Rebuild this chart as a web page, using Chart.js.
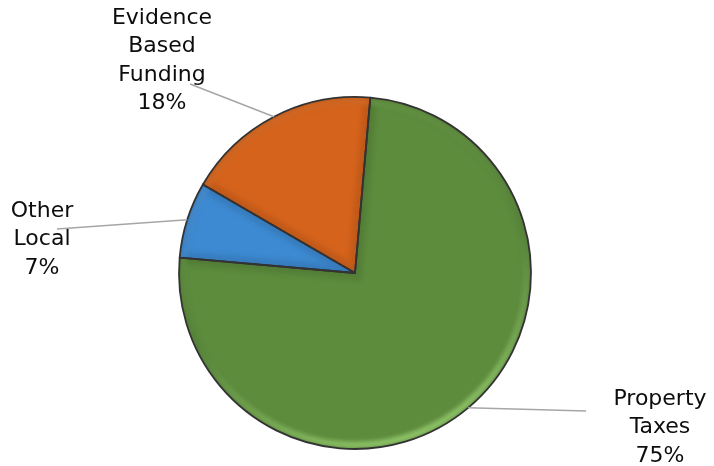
<!DOCTYPE html>
<html>
<head>
<meta charset="utf-8">
<script src="https://cdn.jsdelivr.net/npm/chart.js@4.4.1/dist/chart.umd.min.js"></script>
<style>
  html, body { margin: 0; padding: 0; background: #fff; }
  #wrap { width: 714px; height: 466px; position: relative; }
</style>
</head>
<body>
<div id="wrap"><canvas id="c"></canvas></div>
<script>
// Revenue sources by share
const categories = ['Property Taxes', 'Other Local', 'Evidence Based Funding'];
const labelLines = [['Property', 'Taxes'], ['Other', 'Local'], ['Evidence', 'Based', 'Funding']];
const shares = [75, 7, 18];
const baseColors = ['#5d8c3d', '#3d8ad2', '#d5631c'];
const rimColors = ['rgba(150,205,110,', 'rgba(120,185,245,', 'rgba(245,145,70,'];

// Where each label block sits and where its leader line ends
const labelPlacement = [
  { cx: 660, top: 388, lineEnd: [586, 411] },
  { cx: 42, top: 200, lineEnd: [57, 229] },
  { cx: 162, top: 7, lineEnd: [190, 84] }
];

// Soft bevel: darker shade along the straight edges and a light rim at lower right
const bevelPlugin = {
  id: 'bevel',
  afterDatasetsDraw(chart) {
    const c = chart.ctx;
    const meta = chart.getDatasetMeta(0);
    meta.data.forEach((arc, i) => {
      const { x, y, startAngle, endAngle, outerRadius } = arc.getProps(['x', 'y', 'startAngle', 'endAngle', 'outerRadius'], true);
      c.save();
      c.beginPath();
      c.moveTo(x, y);
      c.arc(x, y, outerRadius, startAngle, endAngle);
      c.closePath();
      c.clip();
      // inner shade along the edges
      c.filter = 'blur(2px)';
      c.lineWidth = 16;
      c.strokeStyle = 'rgba(0,0,0,0.06)';
      c.stroke();
      c.lineWidth = 7;
      c.strokeStyle = 'rgba(0,0,0,0.05)';
      c.stroke();
      // lighter rim, strongest at lower right
      const lg = c.createLinearGradient(x - outerRadius * 0.4, y - outerRadius, x + outerRadius * 0.3, y + outerRadius);
      lg.addColorStop(0, rimColors[i] + '0.25)');
      lg.addColorStop(0.55, rimColors[i] + '0.05)');
      lg.addColorStop(0.8, rimColors[i] + '0.5)');
      lg.addColorStop(1, rimColors[i] + '0.95)');
      c.beginPath();
      c.arc(x, y, outerRadius - 4, startAngle, endAngle);
      c.lineWidth = 7;
      c.strokeStyle = lg;
      c.stroke();
      c.restore();
      // outline
      c.save();
      c.beginPath();
      c.moveTo(x, y);
      c.arc(x, y, outerRadius, startAngle, endAngle);
      c.closePath();
      c.lineWidth = 1.8;
      c.strokeStyle = '#333';
      c.lineJoin = 'round';
      c.stroke();
      c.restore();
    });
  }
};

// Category labels with leader lines from each slice's rim
const labelPlugin = {
  id: 'sliceLabels',
  afterDraw(chart) {
    const c = chart.ctx;
    const meta = chart.getDatasetMeta(0);
    const total = shares.reduce((a, b) => a + b, 0);
    meta.data.forEach((arc, i) => {
      const { x, y, startAngle, endAngle, outerRadius } = arc.getProps(['x', 'y', 'startAngle', 'endAngle', 'outerRadius'], true);
      const mid = (startAngle + endAngle) / 2;
      const px = x + Math.cos(mid) * outerRadius;
      const py = y + Math.sin(mid) * outerRadius;
      const p = labelPlacement[i];
      c.save();
      c.strokeStyle = '#a6a6a6';
      c.lineWidth = 1.5;
      c.beginPath();
      c.moveTo(px, py);
      c.lineTo(p.lineEnd[0], p.lineEnd[1]);
      c.stroke();
      c.fillStyle = '#0d0d0d';
      c.font = '22px "DejaVu Sans", Verdana, sans-serif';
      c.textAlign = 'center';
      c.textBaseline = 'top';
      const lines = labelLines[i].concat([Math.round(shares[i] / total * 100) + '%']);
      lines.forEach((t, k) => c.fillText(t, p.cx, p.top + k * 28.5));
      c.restore();
    });
  }
};

new Chart(document.getElementById('c'), {
  type: 'pie',
  data: {
    labels: categories,
    datasets: [{
      data: shares,
      backgroundColor: baseColors,
      borderWidth: 0
    }]
  },
  options: {
    responsive: true,
    maintainAspectRatio: false,
    animation: false,
    rotation: 5,
    layout: { padding: { top: 97, bottom: 17, left: 100, right: 104 } },
    plugins: {
      legend: { display: false },
      tooltip: { enabled: false }
    }
  },
  plugins: [bevelPlugin, labelPlugin]
});
</script>
</body>
</html>
